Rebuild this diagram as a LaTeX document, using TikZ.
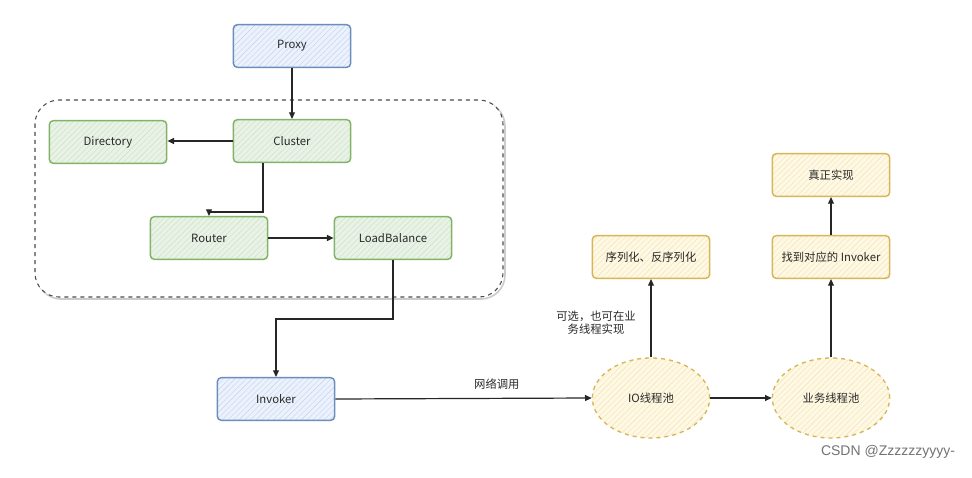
\documentclass[tikz,border=0pt]{standalone}
\usepackage{fontspec}
\setmainfont{Noto Sans CJK SC}
\newfontfamily\wmfont{Liberation Sans}
\usetikzlibrary{arrows.meta,shapes.geometric,patterns.meta}
\definecolor{bluefill}{HTML}{DAE8FC}
\definecolor{bluestroke}{HTML}{6C8EBF}
\definecolor{greenfill}{HTML}{D5E8D4}
\definecolor{greenstroke}{HTML}{82B366}
\definecolor{yelfill}{HTML}{FFF2CC}
\definecolor{yelstroke}{HTML}{D6B656}
\definecolor{txt}{HTML}{2A2A2A}
\tikzset{
  x=0.75pt, y=-0.75pt,
  every node/.style={font=\fontsize{8.5pt}{10pt}\selectfont, text=txt},
  boxbase/.style={rectangle, rounded corners=3pt, line width=1.1pt, minimum width=88pt, minimum height=32pt, inner sep=0pt},
  bluebox/.style={boxbase, draw=bluestroke, preaction={fill=bluefill!55}, pattern={Lines[angle=45,distance=3pt,line width=0.3pt]}, pattern color=bluestroke!40},
  greenbox/.style={boxbase, draw=greenstroke, preaction={fill=greenfill!55}, pattern={Lines[angle=45,distance=3pt,line width=0.3pt]}, pattern color=greenstroke!40},
  yelbox/.style={boxbase, draw=yelstroke, preaction={fill=yelfill!55}, pattern={Lines[angle=45,distance=3pt,line width=0.3pt]}, pattern color=yelstroke!40},
  yelell/.style={ellipse, dashed, line width=1pt, minimum width=88pt, minimum height=60pt, inner sep=0pt, draw=yelstroke, preaction={fill=yelfill!55}, pattern={Lines[angle=45,distance=3pt,line width=0.3pt]}, pattern color=yelstroke!40},
  arr/.style={draw=black!85, line width=0.9pt, -{Triangle[length=5pt,width=4.5pt]}},
}
\begin{document}
\begin{tikzpicture}
\useasboundingbox[fill=white] (0,0) rectangle (972,478);
% container with light shadow
\draw[line width=1.2pt, draw=black!20, rounded corners=18pt] (37,102) rectangle (505,299);
\draw[dashed, line width=0.8pt, draw=black!70, rounded corners=18pt, fill=white] (35,100) rectangle (503,297);

\node[bluebox] (proxy) at (292,46) {Proxy};
\node[greenbox] (cluster) at (292,141) {Cluster};
\node[greenbox] (dir) at (108,142) {Directory};
\node[greenbox] (router) at (209,238) {Router};
\node[greenbox] (lb) at (393,238) {LoadBalance};
\node[bluebox] (invoker) at (276,399) {Invoker};
\node[yelell] (io) at (651,398) {IO线程池};
\node[yelell] (biz) at (831,398) {业务线程池};
\node[yelbox] (ser) at (651,257) {序列化、反序列化};
\node[yelbox] (find) at (831,257) {找到对应的 Invoker};
\node[yelbox] (real) at (831,175) {真正实现};

\draw[arr] (proxy.south) -- (cluster.north);
\draw[arr] (cluster.west) -- (dir.east |- cluster.west);
\draw[arr] ([xshift=-21.75pt]cluster.south) -- ++(0,49) -| (router.north);
\draw[arr] (router.east) -- (lb.west);
\draw[arr] (lb.south) -- ++(0,59) -| (invoker.north);
\draw[arr] (invoker.east) -- node[pos=0.63, above=3pt] (netlbl) {网络调用} (io.west);
\draw[arr] (io.north) -- (ser.south);
\draw[arr] (io.east) -- (biz.west);
\draw[arr] (biz.north) -- (find.south);
\draw[arr] (find.north) -- (real.south);

\node[align=center] (opt) at (596,323) {可选，也可在业\\务线程实现};
\node[font=\wmfont\fontsize{10.5pt}{12pt}\selectfont, text=black!55] (wm) at (888,452) {CSDN @Zzzzzzyyyy-};
\end{tikzpicture}
\end{document}
